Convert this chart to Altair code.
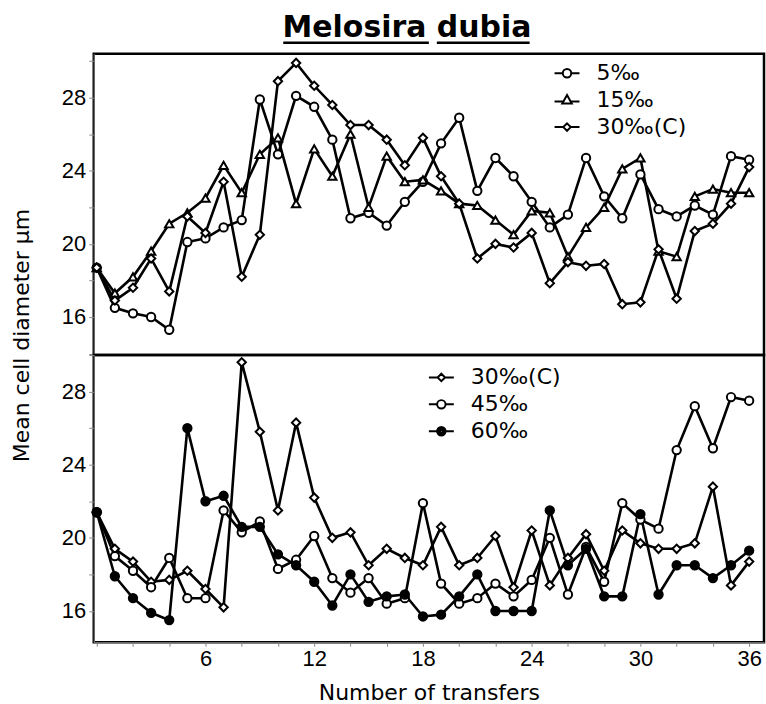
import altair as alt
import pandas as pd

# Number of transfers (x) shared by every series
transfers = list(range(37))

# Panel a: mean cell diameter (µm) at 5, 15 and 30 ‰ (control)
a_labels = ["5‰", "15‰", "30‰(C)"]
a_5 = [18.7, 16.5, 16.2, 16.0, 15.3, 20.1, 20.3, 20.9, 21.3, 27.9, 24.9, 28.1, 27.5,
       25.7, 21.4, 21.7, 21.0, 22.3, 23.4, 25.5, 26.9, 22.9, 24.7, 23.7, 22.3, 20.9,
       21.6, 24.7, 22.6, 21.4, 23.8, 21.9, 21.5, 22.1, 21.6, 24.8, 24.6]
a_15 = [18.7, 17.3, 18.2, 19.6, 21.1, 21.7, 22.5, 24.3, 22.8, 24.9, 25.8, 22.2, 25.2,
        23.7, 26.0, 22.0, 24.8, 23.4, 23.5, 22.9, 22.2, 22.1, 21.3, 20.5, 21.8, 21.7,
        19.3, 20.9, 22.0, 24.1, 24.7, 19.6, 19.3, 22.6, 23.0, 22.8, 22.8]
a_30 = [18.7, 16.9, 17.6, 19.2, 17.4, 21.5, 20.6, 23.4, 18.2, 20.5, 28.9, 29.9, 28.65,
        27.6, 26.5, 26.5, 25.7, 24.3, 25.8, 23.7, 22.2, 19.2, 20.0, 19.8, 20.6, 17.85,
        19.0, 18.8, 18.9, 16.7, 16.8, 19.7, 17.0, 20.7, 21.1, 22.2, 24.2]

# Panel b: 30 ‰ (control), 45 ‰ and 60 ‰
b_labels = ["30‰(C)", "45‰", "60‰"]
b_30 = [21.4, 19.4, 18.7, 17.6, 17.7, 18.2, 17.2, 16.2, 29.6, 25.8, 21.5, 26.3, 22.2,
        20.0, 20.3, 18.5, 19.4, 18.9, 18.5, 20.6, 18.5, 18.9, 20.1, 17.3, 20.4, 17.4,
        18.9, 20.2, 18.2, 20.4, 19.7, 19.4, 19.4, 19.7, 22.8, 17.4, 18.7]
b_45 = [21.4, 19.0, 18.2, 17.3, 18.9, 16.7, 16.7, 21.5, 20.3, 20.9, 18.3, 18.8, 20.1,
        17.8, 17.0, 17.8, 16.4, 16.7, 21.9, 17.5, 16.4, 16.7, 17.5, 16.8, 17.7, 20.0,
        16.9, 19.5, 17.6, 21.9, 21.0, 20.5, 24.8, 27.2, 24.9, 27.7, 27.5]
b_60 = [21.4, 17.9, 16.7, 15.9, 15.5, 26.0, 22.0, 22.3, 20.6, 20.6, 19.1, 18.5, 17.6,
        16.3, 18.0, 16.5, 16.8, 16.9, 15.7, 15.8, 16.8, 18.0, 16.0, 16.0, 16.0, 21.5,
        18.5, 19.4, 16.8, 16.8, 21.3, 16.9, 18.5, 18.5, 17.8, 18.5, 19.3]

x_tick_values = list(range(0, 37, 2))
FONT = "DejaVu Sans"
W = 672

# Legend symbols: marker with a short line stub on each side
RING = "M{r},0A{r},{r},0,1,1,-{r},0A{r},{r},0,1,1,{r},0Z"
STUBS = "M-1,0H-0.34M0.34,0H1"
CIRCLE_PATH = STUBS + RING.format(r=0.34)
DOT_PATH = STUBS + RING.format(r=0.34) + RING.format(r=0.18) + RING.format(r=0.05)
TRI_PATH = "M-1,0.1H-0.3M0.3,0.1H1M0,-0.42L0.38,0.26L-0.38,0.26Z"
DIAMOND_PATH = "M-1,0H-0.3M0.3,0H1M0,-0.3L0.3,0L0,0.3L-0.3,0Z"

styles = {
    "5‰": ("circle", "white", CIRCLE_PATH),
    "15‰": ("triangle-up", "white", TRI_PATH),
    "30‰(C)": ("diamond", "white", DIAMOND_PATH),
    "45‰": ("circle", "white", CIRCLE_PATH),
    "60‰": ("circle", "black", DOT_PATH),
}

VIEW = alt.ViewConfig(stroke="black", strokeWidth=2.5)


def long_frame(labels, series):
    rows = []
    for lab, vals in zip(labels, series):
        for t, v in zip(transfers, vals):
            rows.append({"transfers": t, "diameter": v, "series": lab})
    return pd.DataFrame(rows)


def panel_layers(labels, series, y_domain, y_values, bottom, legend_x, legend_y):
    df = long_frame(labels, series)
    x_scale = alt.Scale(domain=[-0.165, 36.82], nice=False, zero=False)
    if bottom:
        x_axis = alt.Axis(values=x_tick_values,
                          labelExpr="datum.value > 0 && datum.value % 6 == 0 ? datum.label : ''",
                          title="Number of transfers", titleFont=FONT, titleFontSize=22,
                          titleFontWeight="normal", titlePadding=13, tickSize=4,
                          labelPadding=2, labelFontSize=22, grid=False)
    else:
        x_axis = None
    y_axis = alt.Axis(values=y_values,
                      labelExpr="datum.value % 4 == 0 ? datum.label : ''",
                      tickSize=5, labelPadding=3, labelFontSize=22, grid=False,
                      title="Mean cell diameter  µm" if bottom else None,
                      titleFont=FONT, titleFontSize=22, titleFontWeight="normal",
                      titleX=-60, titleY=-20)
    x = alt.X("transfers:Q", scale=x_scale, axis=x_axis)
    y = alt.Y("diameter:Q", scale=alt.Scale(domain=y_domain, nice=False, zero=False),
              axis=y_axis)

    layers = [alt.Chart(df).mark_line(color="black", strokeWidth=2.6).encode(
        x=x, y=y, detail="series:N")]
    for lab in labels:
        shape, fill, _ = styles[lab]
        layers.append(
            alt.Chart(df).transform_filter(alt.datum.series == lab).mark_point(
                shape=shape, filled=True, fill=fill, stroke="black", strokeWidth=2,
                size=70, opacity=1).encode(x=x, y=y)
        )

    legend = alt.Legend(title=None, orient="none", legendX=legend_x, legendY=legend_y,
                        labelFont=FONT, labelFontSize=22, labelColor="black",
                        symbolSize=625, symbolStrokeWidth=2, symbolStrokeColor="black",
                        symbolFillColor="white", symbolOpacity=1, labelOffset=16,
                        rowPadding=2, padding=0)
    layers.append(
        alt.Chart(pd.DataFrame({"series": labels})).mark_point(
            size=0, filled=False, color="black", strokeWidth=2, opacity=1).encode(
            shape=alt.Shape("series:N", scale=alt.Scale(
                domain=labels, range=[styles[l][2] for l in labels]), legend=legend),
        )
    )
    return layers


layers_a = panel_layers(a_labels, [a_5, a_15, a_30], [13.92, 30.4],
                        list(range(14, 31, 2)), False, 461, 6)

# Title with underlined words
layers_a.append(
    alt.Chart(pd.DataFrame({"t": ["Melosira dubia"]})).mark_text(
        font=FONT, fontSize=30, fontWeight="bold", align="center",
        baseline="alphabetic", color="black"
    ).encode(text="t:N", x=alt.value(314), y=alt.value(-17))
)
layers_a.append(
    alt.Chart(pd.DataFrame({"w": ["Melosira", "dubia"],
                            "x0": [190, 344], "x1": [336, 437]})).mark_rule(
        color="black", strokeWidth=2.5
    ).encode(x=alt.X("x0:Q", scale=None), x2="x1:Q", y=alt.value(-11))
)

panel_a = alt.layer(*layers_a).properties(width=W, height=302, view=VIEW)
panel_b = alt.layer(*panel_layers(b_labels, [b_30, b_45, b_60], [14.29, 30.0],
                                  list(range(16, 31, 2)), True, 335, 9)
                    ).properties(width=W, height=288, view=VIEW)

chart = alt.vconcat(panel_a, panel_b, spacing=0, bounds="flush").resolve_scale(
    shape="independent"
).resolve_legend(
    shape="independent"
).properties(
    padding={"left": 9, "top": 10, "right": 0, "bottom": 0}
).configure_view(
    stroke="black", strokeWidth=2.5
).configure_axis(
    labelFont=FONT, labelColor="black", tickColor="black", tickWidth=2,
    domainColor="black", domainWidth=2.5, labelFlush=False, labelOverlap=False,
    titleColor="black"
).configure(background="white")

chart.save("out.html", embed_options={"renderer": "svg", "actions": False})
